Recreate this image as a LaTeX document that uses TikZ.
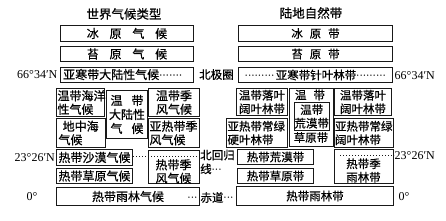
\documentclass[tikz,border=0pt]{standalone}
\usepackage{fontspec}
\setmainfont{Liberation Serif}
\newfontfamily\cjk[FakeBold=0.6]{Noto Sans CJK SC}
\newfontfamily\lat{Liberation Serif}
\newcommand\dotrun[1]{\makebox[#1]{\lat\leaders\hbox to 3.3pt{\hss·\hss}\hfill}}
\newcommand\gp[1]{\hspace{#1em}}
\begin{document}
\begin{tikzpicture}[x=1pt,y=-1pt,
  lbox/.style={draw=black!90, line width=1pt, inner ysep=0pt, inner xsep=1pt, anchor=north west,
    font=\cjk\fontsize{12}{13.5}\selectfont, align=center, text=black},
  rbox/.style={lbox, font=\cjk\fontsize{11.5}{13.5}\selectfont},
  ltxt/.style={inner sep=0pt, font=\cjk\fontsize{12}{13.5}\selectfont, text=black},
  rtxt/.style={inner sep=0pt, font=\cjk\fontsize{11.5}{13.5}\selectfont, text=black},
  lat/.style={inner sep=0pt, font=\lat\fontsize{12}{14}\selectfont, text=black},
  ttl/.style={inner sep=0pt, font=\cjk\fontsize{12.5}{14}\selectfont, text=black},
  dotln/.style={draw=black!90, line width=1pt, dash pattern=on 1pt off 2pt}
]
\useasboundingbox (0,0) rectangle (446,220);
% titles
\node[ttl] (t1) at (124,14) {世界气候类型};
\node[ttl] (t2) at (311,13) {陆地自然带};
% ---------- left column ----------
\node[lbox, minimum width=133pt, minimum height=16pt] (lbing) at (60,25) {冰\gp{0.9}原\gp{0.9}气\gp{0.9}候};
\node[lbox, minimum width=133pt, minimum height=15pt] (ltai) at (60,46) {苔\gp{0.9}原\gp{0.9}气\gp{0.9}候};
\node[lbox, minimum width=133pt, minimum height=15pt] (lyh) at (60,67) {};
\node[ltxt, anchor=west] (lyht) at (63,74.5) {亚寒带大陆性气候\dotrun{24pt}};
\node[lbox, minimum width=48pt, minimum height=28pt, text width=46pt, align=left] (lhy) at (56,88) {温带海洋\\性气候};
\node[lbox, minimum width=41pt, minimum height=48pt, font=\cjk\fontsize{12}{14}\selectfont] (ldl) at (106,90) {温\gp{0.75}带\\大陆性\\气\gp{0.75}候};
\node[lbox, minimum width=51pt, minimum height=28pt] (ljf) at (148,88) {温带季\\风气候};
\node[lbox, minimum width=49pt, minimum height=29pt, text width=45pt, inner xsep=2pt, align=left] (ldz) at (56,118) {\hspace{0.35em}地中海\\气候};
\node[lbox, minimum width=51pt, minimum height=29pt, text width=49pt, align=left] (lyr) at (148,118) {亚热带季\\风气候};
\node[lbox, minimum width=76pt, minimum height=16pt] (lsm) at (56,149) {热带沙漠气候};
\node[lbox, minimum width=51pt, minimum height=33pt] (lrj) at (148,150) {};
\node[ltxt, align=center] (lrjt) at (173.5,171.5) {热带季\\风气候};
\node[lbox, minimum width=76pt, minimum height=15pt] (lcy) at (56,168) {热带草原气候};
\node[lbox, minimum width=143pt, minimum height=18pt] (lyl) at (56,187) {热带雨林气候};
% latitude labels left
\node[lat, anchor=east] (l66) at (57.5,74.5) {66°34′N};
\node[lat, anchor=east] (l23) at (55,157.5) {23°26′N};
\node[lat] (l0) at (32,197) {0°};
% middle labels
\node[ltxt, font=\cjk\fontsize{11.5}{13}\selectfont] (bjq) at (216.5,74.5) {北极圈};
\node[ltxt, anchor=north west, align=left, font=\cjk\fontsize{11.5}{14}\selectfont] (bhg) at (200,149.5) {北回归\\线\dotrun{13pt}};
\node[ltxt, font=\cjk\fontsize{11.5}{13}\selectfont] (cd) at (211.5,197.5) {\dotrun{13pt}赤道\dotrun{12pt}};
\coordinate (lend) at (199,156);
\draw[dotln] (lsm.east |- lend) -- (lend);
% ---------- right column ----------
\node[rbox, minimum width=154pt, minimum height=16pt] (rbing) at (238,25) {冰\gp{0.6}原\gp{0.6}带};
\node[rbox, minimum width=154pt, minimum height=15pt] (rtai) at (238,46) {苔\gp{0.6}原\gp{0.6}带};
\node[rbox, minimum width=154pt, minimum height=15pt] (ryh) at (238,67) {\dotrun{31pt}亚寒带针叶林带\dotrun{30pt}};
\node[rbox, minimum width=51pt, minimum height=27pt] (rl1) at (236,88) {温带落叶\\阔叶林带};
\node[rbox, minimum width=44pt, minimum height=58pt] (rwd) at (289,88) {};
\node[rtxt] (rwdt) at (310,95) {温\gp{0.6}带};
\node[rbox, minimum width=34pt, minimum height=28pt, inner xsep=0pt] (rhm) at (294,102) {温带\\荒漠带};
\node[rtxt] (rcyt) at (311,137.5) {草原带};
\node[rbox, minimum width=57pt, minimum height=27pt] (rl2) at (334,88) {温带落叶\\阔叶林带};
\node[rbox, minimum width=61pt, minimum height=29pt, text width=59pt, align=left] (ryy) at (226,118) {亚热带常绿\\硬叶林带};
\node[rbox, minimum width=59pt, minimum height=29pt, text width=58pt, inner xsep=0.5pt, align=left] (ryk) at (334,118) {亚热带常绿\\阔叶林带};
\node[rbox, minimum width=76pt, minimum height=15pt] (rhmd) at (237,149) {热带荒漠带};
\node[rbox, minimum width=76pt, minimum height=15pt] (rcy) at (237,168) {热带草原带};
\node[rbox, minimum width=59pt, minimum height=34pt] (rjy) at (334,149) {};
\node[rtxt, align=center] (rjyt) at (363.5,170.5) {热带季\\雨林带};
\node[rbox, minimum width=157pt, minimum height=19pt] (ryl) at (236,186) {热带雨林带};
\coordinate (rstart) at (340,155.5);
\draw[dotln] (rstart) -- (rjy.east |- rstart);
% latitude labels right
\node[lat, anchor=west] (r66) at (394.5,75.5) {66°34′N};
\node[lat, anchor=west] (r23) at (394.5,155.5) {23°26′N};
\node[lat] (r0) at (404,197) {0°};
\end{tikzpicture}
\end{document}
